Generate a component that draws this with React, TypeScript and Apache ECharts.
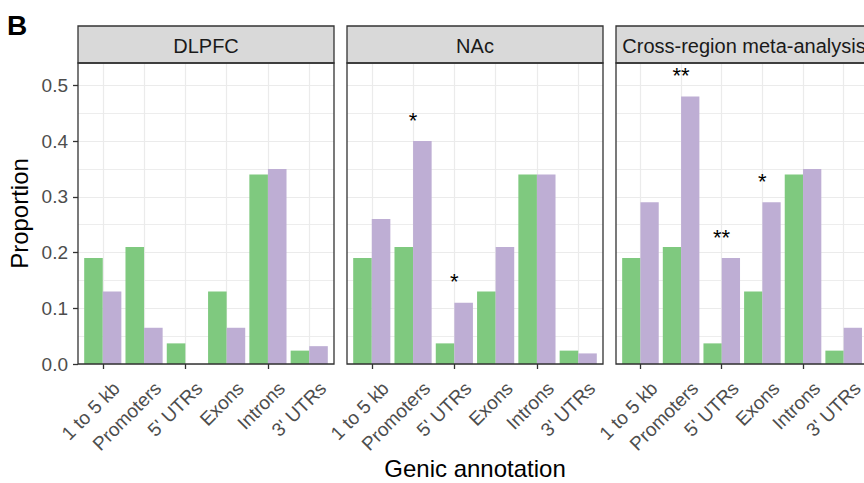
import React, { useEffect, useRef } from "react";
import * as echarts from "echarts";

const categories = ["1 to 5 kb", "Promoters", "5' UTRs", "Exons", "Introns", "3' UTRs"];
const panelNames = ["DLPFC", "NAc", "Cross-region meta-analysis"];

const dlpfcGreen = [0.19, 0.21, 0.037, 0.13, 0.34, 0.024];
const dlpfcPurple = [0.13, 0.065, 0, 0.065, 0.35, 0.032];
const nacGreen = [0.19, 0.21, 0.037, 0.13, 0.34, 0.024];
const nacPurple = [0.26, 0.4, 0.11, 0.21, 0.34, 0.019];
const crossGreen = [0.19, 0.21, 0.037, 0.13, 0.34, 0.024];
const crossPurple = [0.29, 0.48, 0.19, 0.29, 0.35, 0.065];

const dlpfcStars = ["", "", "", "", "", ""];
const nacStars = ["", "*", "*", "", "", ""];
const crossStars = ["", "**", "**", "*", "", ""];

const yTicks = [0, 0.1, 0.2, 0.3, 0.4, 0.5];
const yMinor = [0.05, 0.15, 0.25, 0.35, 0.45];

const greens = [dlpfcGreen, nacGreen, crossGreen];
const purples = [dlpfcPurple, nacPurple, crossPurple];
const stars = [dlpfcStars, nacStars, crossStars];

const FONT = "'Liberation Sans', Arial, Helvetica, sans-serif";
const LEFTS = [78, 347, 616];
const W = 256;
const TOP = 63;
const BOT = 364;
const H = BOT - TOP;
const STRIP_TOP = 26;
const YMAX = 0.54;
const UNIT = W / 6.2;
const BARW = UNIT * 0.45;

export default function App() {
  const ref = useRef<HTMLDivElement>(null);
  useEffect(() => {
    if (!ref.current) return;
    const chart = echarts.init(ref.current, null, { renderer: "svg" });
    const grid: any[] = [];
    const xAxis: any[] = [];
    const yAxis: any[] = [];
    const series: any[] = [];
    const graphic: any[] = [];

    LEFTS.forEach((L, p) => {
      const oi = 2 * p;
      const ii = 2 * p + 1;
      grid.push({ left: L, top: TOP, width: W, height: H, containLabel: false });
      grid.push({ left: L + 0.1 * UNIT, top: TOP, width: 6 * UNIT, height: H, containLabel: false });

      xAxis.push({ gridIndex: oi, type: "value", min: 0, max: 1, show: false });
      xAxis.push({
        gridIndex: ii,
        type: "category",
        data: categories,
        boundaryGap: true,
        axisLine: { show: false },
        axisTick: { show: true, alignWithLabel: true, length: 5, lineStyle: { color: "#333333", width: 1.3 } },
        axisLabel: { show: false },
        splitLine: { show: false },
      });

      yAxis.push({
        gridIndex: oi,
        type: "value",
        min: 0,
        max: YMAX,
        interval: 0.1,
        axisLine: { show: false },
        axisTick: p === 0
          ? { show: true, length: 5, customValues: yTicks, lineStyle: { color: "#333333", width: 1.3 } }
          : { show: false },
        axisLabel: p === 0
          ? {
              show: true,
              customValues: yTicks,
              margin: 10,
              fontSize: 19,
              color: "#4D4D4D",
              fontFamily: FONT,
              formatter: (v: number) => (yTicks.some((t) => Math.abs(t - v) < 1e-9) ? v.toFixed(1) : ""),
            }
          : { show: false },
        splitLine: { show: true, lineStyle: { color: "#EBEBEB", width: 1.2 } },
        z: 0,
      });
      yAxis.push({ gridIndex: ii, type: "value", min: 0, max: YMAX, show: false });

      series.push({
        type: "line",
        xAxisIndex: oi,
        yAxisIndex: oi,
        data: [],
        silent: true,
        z: 0,
        markLine: {
          silent: true,
          z: 0,
          symbol: ["none", "none"],
          label: { show: false },
          lineStyle: { color: "#EBEBEB", width: 0.9, type: "solid" },
          data: yMinor.map((v) => ({ yAxis: v })),
        },
      });
      series.push({
        type: "line",
        xAxisIndex: ii,
        yAxisIndex: ii,
        data: [],
        silent: true,
        z: 0,
        markLine: {
          silent: true,
          z: 0,
          symbol: ["none", "none"],
          label: { show: false },
          lineStyle: { color: "#EBEBEB", width: 1.2, type: "solid" },
          data: categories.map((c) => ({ xAxis: c })),
        },
      });

      series.push({
        name: "Green",
        type: "bar",
        xAxisIndex: ii,
        yAxisIndex: ii,
        data: greens[p],
        barWidth: "45%",
        barGap: "0%",
        itemStyle: { color: "#7FC97F" },
        z: 5,
      });
      series.push({
        name: "Purple",
        type: "bar",
        xAxisIndex: ii,
        yAxisIndex: ii,
        data: purples[p].map((v, i) =>
          stars[p][i]
            ? {
                value: v,
                label: {
                  show: true,
                  formatter: "{s|" + stars[p][i] + "}",
                  position: "top",
                  distance: 10,
                  offset: [-BARW / 2, 0],
                  rich: {
                    s: { fontSize: 22, color: "#000000", fontFamily: FONT, lineHeight: 22 },
                  },
                },
              }
            : v
        ),
        barWidth: "45%",
        barGap: "0%",
        itemStyle: { color: "#BEAED4" },
        z: 5,
      });

      graphic.push({
        type: "rect",
        z: 100,
        shape: { x: L, y: STRIP_TOP, width: W, height: TOP - STRIP_TOP },
        style: { fill: "#D9D9D9", stroke: "#333333", lineWidth: 1.3 },
      });
      graphic.push({
        type: "text",
        z: 101,
        x: L + W / 2,
        y: (STRIP_TOP + TOP) / 2 + 1,
        style: {
          text: panelNames[p],
          fontSize: 20,
          fontFamily: FONT,
          fill: "#1A1A1A",
          align: "center",
          verticalAlign: "middle",
        },
      });
      graphic.push({
        type: "rect",
        z: 100,
        shape: { x: L, y: TOP, width: W, height: H },
        style: { fill: "none", stroke: "#333333", lineWidth: 1.3 },
      });
    });

    graphic.push({
      type: "text",
      z: 101,
      x: 7,
      y: 25,
      style: {
        text: "B",
        fontSize: 28,
        fontWeight: "bold",
        fontFamily: FONT,
        fill: "#000000",
        align: "left",
        verticalAlign: "middle",
      },
    });
    graphic.push({
      type: "text",
      z: 101,
      x: 475,
      y: 468,
      style: {
        text: "Genic annotation",
        fontSize: 24,
        fontFamily: FONT,
        fill: "#000000",
        align: "center",
        verticalAlign: "middle",
      },
    });
    graphic.push({
      type: "text",
      z: 101,
      x: 19,
      y: (TOP + BOT) / 2,
      rotation: Math.PI / 2,
      style: {
        text: "Proportion",
        fontSize: 24,
        fontFamily: FONT,
        fill: "#000000",
        align: "center",
        verticalAlign: "middle",
      },
    });

    chart.setOption({
      animation: false,
      backgroundColor: "#FFFFFF",
      grid,
      xAxis,
      yAxis,
      series,
    });

    // rotated category labels (ggplot style: angle 45, hjust 1, vjust 1), placed through the axis scale
    LEFTS.forEach((_L, p) => {
      const ii = 2 * p + 1;
      categories.forEach((c, i) => {
        const px = chart.convertToPixel({ xAxisIndex: ii }, c) as number;
        graphic.push({
          type: "text",
          z: 101,
          x: px + 7,
          y: BOT + 14.5,
          rotation: Math.PI / 4,
          style: {
            text: c,
            fontSize: 19,
            fontFamily: FONT,
            fill: "#4D4D4D",
            align: "right",
            verticalAlign: "top",
          },
        });
      });
    });

    chart.setOption({ graphic });
    return () => chart.dispose();
  }, []);

  return (
    <div
      ref={ref}
      style={{ position: "absolute", left: 0, top: 0, width: 864, height: 483 }}
    />
  );
}
